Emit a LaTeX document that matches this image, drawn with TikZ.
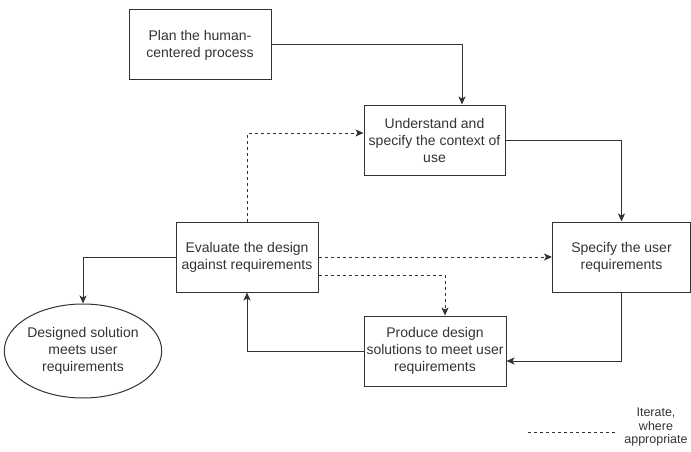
\documentclass[tikz,border=0pt]{standalone}
\usepackage{fontspec}
\setmainfont{Liberation Sans}
\usetikzlibrary{arrows.meta,shapes.geometric}
\definecolor{ink}{HTML}{333333}
\begin{document}
\begin{tikzpicture}[x=1pt,y=-1pt,
  every node/.style={text=ink, font=\fontsize{14}{17}\selectfont, align=center, inner sep=0pt},
  procbox/.style={draw=ink, line width=1pt, rectangle, minimum width=142pt, minimum height=70pt},
  goal/.style={draw=ink, line width=1pt, ellipse, minimum width=142pt, minimum height=94pt},
  flow/.style={draw=ink, line width=1pt, -{Stealth[length=8pt,width=7pt,inset=2pt]}},
  iter/.style={flow, dash pattern=on 3pt off 3pt},
]
\useasboundingbox (0,0) rectangle (691,452);

% process steps
\node[procbox] (plan) at (200,45) {Plan the human-\\centered process};
\node[procbox, minimum width=141pt] (und) at (434.5,140) {Understand and\\specify the context of\\use};
\node[procbox] (eval) at (247,257) {Evaluate the design\\against requirements};
\node[procbox, minimum width=138pt] (spec) at (621.5,257) {Specify the user\\requirements};
\node[procbox] (prod) at (435,351) {Produce design\\solutions to meet user\\requirements};
\node[goal] (done) at (83,351) {Designed solution\\meets user\\requirements};

% main cycle (shifts are in page units: positive yshift moves up)
\draw[flow] (plan.east) -| ([xshift=27.5pt]und.north);
\draw[flow] (und.east) -| (spec.north);
\draw[flow] (spec.south) |- ([yshift=-10pt]prod.east);
\draw[flow] (prod.west) -| (eval.south);
\draw[flow] (eval.west) -| (done.north);

% iteration paths
\draw[iter] (eval.north) |- ([yshift=7pt]und.west);
\draw[iter] (eval.east) -- (spec.west);
\draw[iter] ([yshift=-18pt]eval.east) -| ([xshift=10pt]prod.north);

% legend
\coordinate (legA) at (528,432);
\coordinate (legB) at (618,432);
\draw[ink, line width=1pt, dash pattern=on 3pt off 3pt] (legA) -- (legB);
\node[font=\fontsize{12.5}{13.5}\selectfont] (legtext) at (656,427) {Iterate,\\where\\appropriate};
\end{tikzpicture}
\end{document}
